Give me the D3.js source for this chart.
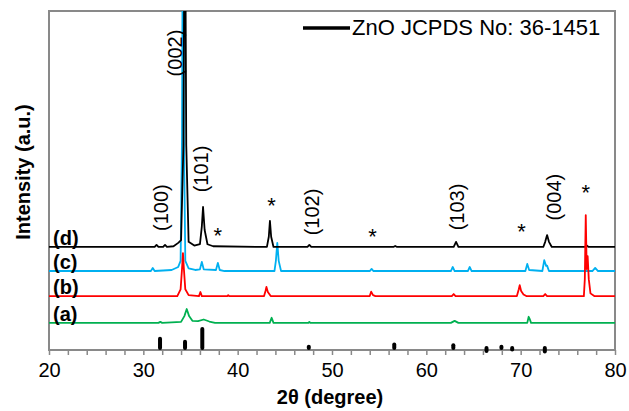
<!DOCTYPE html>
<html lang="en">
<head>
    <meta charset="UTF-8">
    <script src="https://d3js.org/d3.v7.min.js"></script>
    <title>XRD ZnO</title>
    <style>
        body { margin: 0; background: #fff; }
        text { font-family: Arial, "Liberation Sans", sans-serif; }
    </style>
</head>
<body>
    <script>
        //data: [2theta, intensity above own baseline]
        const traceNames = ["(a)", "(b)", "(c)", "(d)"];
        const traceColors = ["#00b050", "#ff0000", "#00b0f0", "#000000"];
        const traceOffsets = [8.0, 15.9, 23.3, 30.4];

        const traceA = [[20,0],[31.6,0],[31.8,0.3],[32.0,0],[34.0,0.3],[34.35,2],[34.6,4.1],[34.85,2],[35.2,0.6],[35.8,0.5],[36.4,1.0],[37.0,0.4],[37.6,0],
            [43.4,0],[43.6,1.5],[43.8,0],[47.5,0],[47.6,0.3],[47.7,0],[62.6,0],[63.0,0.6],[63.4,0],[70.7,0],[70.85,1.8],[70.95,1.2],[71.1,0],[80,0]];
        const traceB = [[20,0],[33.6,0],[33.95,2],[34.1,8],[34.2,12.7],[34.3,8],[34.45,2],[34.8,0.3],[35.9,0],[36.05,1.2],[36.2,0],[38.9,0],[39.0,0.3],[39.1,0],
            [42.8,0],[42.95,1.5],[43.05,2.7],[43.2,1.2],[43.5,0],[54.0,0],[54.15,1.3],[54.35,0.3],[54.6,0],[62.7,0],[62.9,0.6],[63.1,0],
            [69.6,0],[69.8,2],[69.9,3.2],[70.05,1.5],[70.3,0.5],[70.6,0],[72.4,0],[72.6,0.6],[72.8,0],
            [76.7,0],[76.8,5],[76.9,23.9],[77.0,8],[77.1,11.8],[77.22,5],[77.4,0.8],[77.8,0],[80,0]];
        const traceC = [[20,0],[30.8,0],[31.0,0.9],[31.2,0],[33.0,0.3],[33.7,1.2],[33.95,3],[34.1,40],[34.2,120],[34.3,40],[34.45,3],[34.8,0.8],[35.5,0.3],
            [36.0,0.5],[36.2,2.7],[36.4,0.5],[37.7,0.3],[37.9,2.4],[38.1,0.3],[38.6,0],[43.9,0],[44.05,3],[44.2,8.3],[44.35,3],[44.6,0],
            [54.0,0],[54.2,0.6],[54.4,0],[62.6,0],[62.8,1.2],[63.0,0],[64.4,0],[64.6,1.2],[64.8,0],[70.5,0],[70.7,2.1],[70.9,0.3],
            [72.3,0],[72.5,3.2],[72.7,1.5],[72.8,1.6],[73.0,0],[77.6,0],[77.9,0.9],[78.2,0],[80,0]];
        const traceD = [[20,0],[31.2,0],[31.4,0.6],[31.6,0],[32.1,0],[32.3,0.6],[32.5,0],[33.2,0.2],[33.7,1.2],[34.0,2],[34.25,30],[34.4,120],[34.55,30],[34.8,1.5],
            [35.4,0.4],[36.0,0.8],[36.2,6],[36.33,11.8],[36.5,5],[36.8,0.8],[37.4,0.2],[43.1,0],[43.3,3],[43.42,7.7],[43.55,3],[43.8,0],
            [47.4,0],[47.6,0.6],[47.8,0],[56.5,0],[56.7,0.3],[56.9,0],[62.9,0],[63.15,1.5],[63.4,0],
            [72.4,0],[72.6,1.5],[72.8,3.5],[73.0,1.5],[73.3,0],[76.8,0],[77.0,0.4],[77.2,0],[80,0]];
        const traces = [traceA, traceB, traceC, traceD];

        //JCPDS 36-1451 reference lines
        const stickPos = [31.77, 34.42, 36.25, 47.54, 56.6, 62.86, 66.38, 67.96, 69.1, 72.56];
        const stickInt = [57, 44, 100, 23, 32, 29, 4, 23, 11, 2];

        //annotations
        const hklLabels = ["(100)", "(002)", "(101)", "(102)", "(103)", "(004)"];
        const hklPos = [31.9, 33.4, 36.1, 47.9, 63.3, 73.5];
        const hklY = [42.0, 87.6, 53.4, 40.7, 42.2, 45.1];
        const starPos = [37.9, 43.6, 54.3, 70.1, 76.9];
        const starY = [34.8, 43.7, 34.5, 36.0, 47.5];

        const xTicks = [20, 30, 40, 50, 60, 70, 80];

        const w = 629;
        const h = 411;
        const m = {left: 49, top: 11, right: 14, bottom: 61};

        const svg = d3.select("body").append("svg")
            .attr("width", w)
            .attr("height", h);

        const x = d3.scaleLinear()
            .domain([20, 80])
            .range([m.left, w - m.right]);

        const y = d3.scaleLinear()
            .domain([0, 100])
            .range([h - m.bottom, m.top]);

        svg.append("clipPath")
            .attr("id", "clip")
            .append("rect")
            .attr("x", m.left)
            .attr("y", m.top)
            .attr("width", w - m.left - m.right)
            .attr("height", h - m.top - m.bottom);

        //axis ticks
        const axis = svg.append("g")
            .attr("transform", `translate(0,${h - m.bottom})`)
            .call(d3.axisBottom(x)
                .tickValues(d3.range(20, 81, 2))
                .tickSize(5)
                .tickFormat(d => xTicks.includes(d) ? d : ""));
        axis.select(".domain").remove();
        axis.selectAll("line").attr("stroke", "#898989").attr("stroke-width", 1.5);
        axis.selectAll("text")
            .attr("font-size", 20)
            .attr("fill", "#000")
            .attr("y", 13);

        //frame
        svg.append("rect")
            .attr("x", m.left)
            .attr("y", m.top)
            .attr("width", w - m.left - m.right)
            .attr("height", h - m.top - m.bottom)
            .attr("fill", "none")
            .attr("stroke", "#898989")
            .attr("stroke-width", 2);

        //reference sticks
        svg.append("g")
            .selectAll("line")
            .data(stickPos)
            .join("line")
            .attr("x1", d => x(d))
            .attr("x2", d => x(d))
            .attr("y1", y(0) - 2)
            .attr("y2", (d, i) => y(stickInt[i] * 0.068) + 2)
            .attr("stroke", "#000")
            .attr("stroke-width", 4)
            .attr("stroke-linecap", "round");

        //patterns
        const line = d3.line()
            .x(d => x(d[0]))
            .y(d => d[1]);

        const order = [0, 2, 3, 1];
        svg.append("g")
            .attr("clip-path", "url(#clip)")
            .selectAll("path")
            .data(order)
            .join("path")
            .attr("d", i => line(traces[i].map(p => [p[0], y(p[1] + traceOffsets[i])])))
            .attr("fill", "none")
            .attr("stroke", i => traceColors[i])
            .attr("stroke-width", 1.8)
            .attr("stroke-linejoin", "round");

        //sample labels
        svg.selectAll(".tlabel")
            .data(traceNames)
            .join("text")
            .attr("class", "tlabel")
            .attr("x", 53)
            .attr("y", (d, i) => y(traceOffsets[i]) - 2)
            .attr("font-size", 20)
            .attr("font-weight", "bold")
            .text(d => d);

        //hkl labels
        svg.selectAll(".hkl")
            .data(hklLabels)
            .join("text")
            .attr("class", "hkl")
            .attr("transform", (d, i) => `translate(${x(hklPos[i])},${y(hklY[i])}) rotate(-90)`)
            .attr("text-anchor", "middle")
            .attr("dy", "0.35em")
            .attr("font-size", 20)
            .text(d => d);

        svg.selectAll(".star")
            .data(starPos)
            .join("text")
            .attr("class", "star")
            .attr("x", d => x(d))
            .attr("y", (d, i) => y(starY[i]) + 11)
            .attr("text-anchor", "middle")
            .attr("font-size", 22)
            .text("*");

        //legend
        svg.append("line")
            .attr("x1", 303)
            .attr("x2", 350)
            .attr("y1", 28)
            .attr("y2", 28)
            .attr("stroke", "#000")
            .attr("stroke-width", 3.5);
        svg.append("text")
            .attr("x", 352)
            .attr("y", 35)
            .attr("font-size", 22)
            .text("ZnO JCPDS No: 36-1451");

        //axis titles
        svg.append("text")
            .attr("x", 330)
            .attr("y", 404)
            .attr("text-anchor", "middle")
            .attr("font-size", 20)
            .attr("font-weight", "bold")
            .text("2θ (degree)");

        svg.append("text")
            .attr("transform", "translate(30,172) rotate(-90)")
            .attr("text-anchor", "middle")
            .attr("font-size", 20)
            .attr("font-weight", "bold")
            .text("Intensity (a.u.)");
    </script>
</body>
</html>
